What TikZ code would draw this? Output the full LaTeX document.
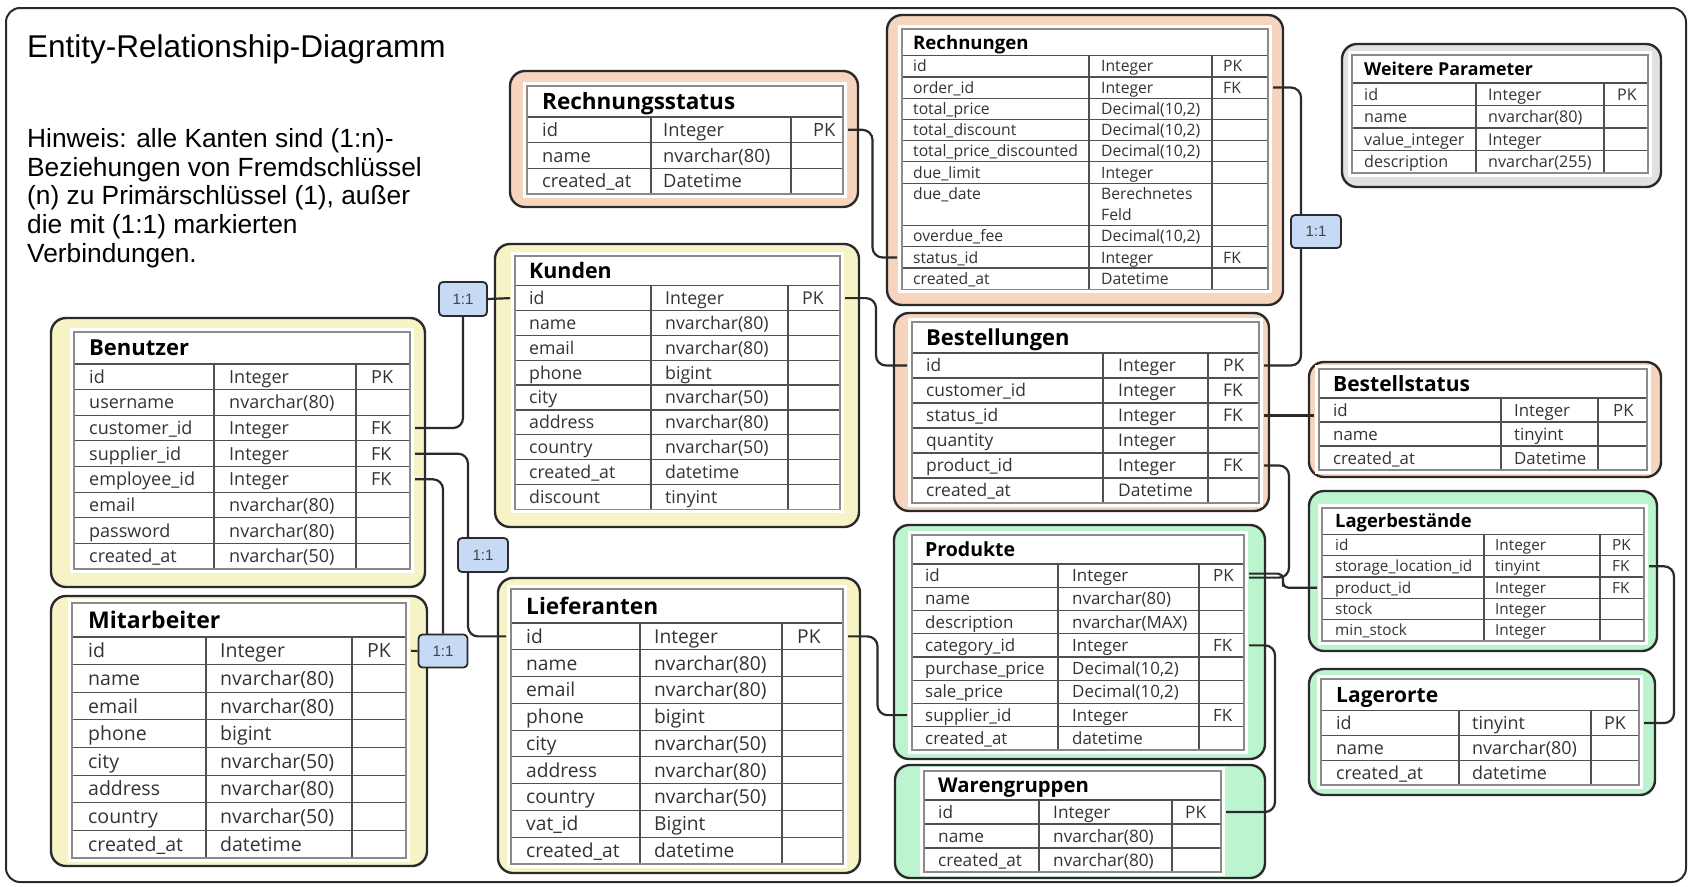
\documentclass[tikz,border=0pt]{standalone}
\usepackage{fontspec}
\setmainfont{Open Sans}
\newfontfamily\arialfont{Liberation Sans}
\usetikzlibrary{calc}
\definecolor{yel}{HTML}{F6F4C6}
\definecolor{pea}{HTML}{F7D4BD}
\definecolor{grn}{HTML}{BDF4D0}
\definecolor{gry}{HTML}{E1E1E1}
\definecolor{blu}{HTML}{C6DAF5}
\definecolor{ink}{HTML}{2A2A2A}
\definecolor{gridc}{HTML}{505050}
\definecolor{tbord}{HTML}{8A8A8A}
\definecolor{celltxt}{HTML}{333333}
\definecolor{onetxt}{HTML}{444444}

\newcount\tabrows
\newcommand\tgeom[7]{\def\tL{#1}\def\tR{#2}\def\tT{#3}\def\tH{#4}\def\tB{#5}\def\tCa{#6}\def\tCb{#7}}
\newcommand\ttxt[5]{\def\txa{#1}\def\txb{#2}\def\txc{#3}\def\tfs{#4}\def\hfs{#5}}
\def\skiprow{0}
\newcommand\ertab[3]{%
  \global\tabrows=0
  \foreach \x in {#3}{\global\advance\tabrows by 1}%
  \pgfmathsetmacro\rh{(\tB-\tH)/\the\tabrows}%
  \fill[white] ({\tL-4},{\tT-4}) rectangle ({\tR+4},{\tB+4});
  \node[titletext] (#1-title) at (\txa,{(\tT+\tH)/2+0.36*\hfs}) {#2};
  \foreach[count=\ri] \ca/\cb/\cc in {#3}{%
    \pgfmathsetmacro\yt{\tH+(\ri-1)*\rh}%
    \pgfmathsetmacro\yc{\yt+\rh/2}%
    \ifnum\ri=\skiprow\relax\else\draw[gridline] (\tL,\yt) -- (\tR,\yt);\fi
    \node[celltext] (#1-\ri-a) at (\txa,{\yc+0.36*\tfs}) {\ca};
    \node[celltext] (#1-\ri-b) at (\txb,{\yc+0.36*\tfs}) {\cb};
    \node[celltext] (#1-\ri-c) at (\txc,{\yc+0.36*\tfs}) {\cc};
    \coordinate (#1-\ri-L) at ({\tL-5},\yc);
    \coordinate (#1-\ri-R) at ({\tR+5},\yc);
  }
  \draw[gridline] (\tCa,\tH) -- (\tCa,\tB);
  \draw[gridline] (\tCb,\tH) -- (\tCb,\tB);
  \draw[tborder] (\tL,\tT) rectangle (\tR,\tB);
}

\tikzset{
  frame/.style={draw=ink, line width=2, rounded corners=14},
  outerbox/.style={draw=ink, line width=2.4, rounded corners=15},
  gridline/.style={draw=gridc, line width=1.2},
  tborder/.style={draw=tbord, line width=1.6},
  celltext/.style={anchor=base west, inner sep=0, text=celltxt, font=\fontsize{\tfs}{\tfs}\selectfont},
  titletext/.style={anchor=base west, inner sep=0, text=black, font=\fontsize{\hfs}{\hfs}\selectfont\bfseries},
  conn/.style={draw=ink, line width=2.2, rounded corners=10},
  onebox/.style={draw=ink, fill=blu, line width=1.8, rounded corners=4, inner sep=0, font=\arialfont\fontsize{15}{15}\selectfont, text=onetxt},
  heading/.style={anchor=base west, inner sep=0, font=\arialfont\fontsize{31.5}{31.5}\selectfont},
  hint/.style={anchor=base west, inner sep=0, font=\arialfont\fontsize{26.3}{26.3}\selectfont},
}

\begin{document}
\begin{tikzpicture}[x=1pt,y=-1pt]
\useasboundingbox (0,0) rectangle (1689,886);
\fill[white] (0,0) rectangle (1689,886);
\draw[frame] (6,8) rectangle (1686,882);

\node[heading] (title) at (27,57) {Entity-Relationship-Diagramm};
\node[hint] (hint1) at (27,147) {Hinweis: alle Kanten sind (1:n)-};
\node[hint] (hint2) at (27,176) {Beziehungen von Fremdschlüssel};
\node[hint] (hint3) at (27,204) {(n) zu Primärschlüssel (1), außer};
\node[hint] (hint4) at (27,233) {die mit (1:1) markierten};
\node[hint] (hint5) at (27,262) {Verbindungen.};

% ---------- outer boxes ----------
\draw[outerbox, fill=pea] (510,71) rectangle (858,207);
\draw[outerbox, fill=pea] (887,15) rectangle (1283,305);
\draw[outerbox, fill=gry] (1342,44) rectangle (1661,187);
\draw[outerbox, fill=yel] (495,244) rectangle (859,527);
\draw[outerbox, fill=yel] (51,318) rectangle (425,587);
\draw[outerbox, fill=yel] (51,596) rectangle (427,866);
\draw[outerbox, fill=pea] (894,313) rectangle (1269,511);
\draw[outerbox, fill=pea] (1309,362) rectangle (1661,477);
\draw[outerbox, fill=grn] (1309,491) rectangle (1657,651);
\draw[outerbox, fill=grn] (1309,669) rectangle (1655,795);
\draw[outerbox, fill=grn] (894,525) rectangle (1265,759);
\draw[outerbox, fill=grn] (895,765) rectangle (1265,878);
\draw[outerbox, fill=yel] (498,578) rectangle (860,873);

% ---------- tables ----------
\tgeom{74}{410}{332}{364}{569}{214}{356}\ttxt{89}{229}{371}{18}{22}
\ertab{benutzer}{Benutzer}{id/Integer/PK,username/nvarchar(80)/{},customer\_id/Integer/FK,supplier\_id/Integer/FK,employee\_id/Integer/FK,email/nvarchar(80)/{},password/nvarchar(80)/{},created\_at/nvarchar(50)/{}}

\tgeom{72}{406}{603}{637}{858}{206}{352}\ttxt{88}{220}{367}{19.5}{23}
\ertab{mitarb}{Mitarbeiter}{id/Integer/PK,name/nvarchar(80)/{},email/nvarchar(80)/{},phone/bigint/{},city/nvarchar(50)/{},address/nvarchar(80)/{},country/nvarchar(50)/{},created\_at/datetime/{}}

\tgeom{515}{840}{256}{285.7}{509.3}{651}{788}\ttxt{529}{665}{802}{17.7}{21.4}
\ertab{kunden}{Kunden}{id/Integer/PK,name/nvarchar(80)/{},email/nvarchar(80)/{},phone/bigint/{},city/nvarchar(50)/{},address/nvarchar(80)/{},country/nvarchar(50)/{},created\_at/datetime/{},discount/tinyint/{}}

\tgeom{511}{843}{589}{623}{864}{640}{782}\ttxt{526}{654}{797}{19.2}{22.7}
\ertab{liefer}{Lieferanten}{id/Integer/PK,name/nvarchar(80)/{},email/nvarchar(80)/{},phone/bigint/{},city/nvarchar(50)/{},address/nvarchar(80)/{},country/nvarchar(50)/{},vat\_id/Bigint/{},created\_at/datetime/{}}

\tgeom{527}{843}{86}{117}{194}{651}{791}\ttxt{542}{663}{813}{18.3}{22.5}
\ertab{rstatus}{Rechnungsstatus}{id/Integer/PK,name/nvarchar(80)/{},created\_at/Datetime/{}}

\def\skiprow{8}
\tgeom{902}{1268}{29}{55.7}{289.3}{1089}{1212}\ttxt{913}{1101}{1223}{15.7}{18.6}
\ertab{rechn}{Rechnungen}{id/Integer/PK,order\_id/Integer/FK,{total\_price/Decimal(10,2)/{}},{total\_discount/Decimal(10,2)/{}},{total\_price\_discounted/Decimal(10,2)/{}},due\_limit/Integer/{},due\_date/Berechnetes/{},{}/Feld/{},{overdue\_fee/Decimal(10,2)/{}},status\_id/Integer/FK,created\_at/Datetime/{}}
\def\skiprow{0}

\tgeom{1352}{1648}{55}{83}{173}{1476}{1604}\ttxt{1364}{1488}{1617}{16.1}{17.8}
\ertab{weitere}{Weitere Parameter}{id/Integer/PK,name/nvarchar(80)/{},value\_integer/Integer/{},description/nvarchar(255)/{}}

\tgeom{912}{1259}{322}{353}{503}{1103}{1208}\ttxt{926}{1118}{1223}{17.4}{22}
\ertab{bestell}{Bestellungen}{id/Integer/PK,customer\_id/Integer/FK,status\_id/Integer/FK,quantity/Integer/{},product\_id/Integer/FK,created\_at/Datetime/{}}

\tgeom{1319}{1647}{369}{398}{470}{1501}{1598}\ttxt{1333}{1514}{1613}{16.8}{21}
\ertab{bstatus}{Bestellstatus}{id/Integer/PK,name/tinyint/{},created\_at/Datetime/{}}

\tgeom{1322}{1644}{508}{534.3}{641}{1484}{1600}\ttxt{1335}{1495}{1612}{15.3}{18.4}
\ertab{lagerb}{Lagerbestände}{id/Integer/PK,storage\_location\_id/tinyint/FK,product\_id/Integer/FK,stock/Integer/{},min\_stock/Integer/{}}

\tgeom{1321}{1639}{679}{710.7}{785}{1459}{1591}\ttxt{1336}{1472}{1604}{17.9}{21}
\ertab{lagero}{Lagerorte}{id/tinyint/PK,name/nvarchar(80)/{},created\_at/datetime/{}}

\tgeom{912}{1244}{535}{564}{750}{1058}{1199}\ttxt{925}{1072}{1213}{16.9}{19.5}
\ertab{produkte}{Produkte}{id/Integer/PK,name/nvarchar(80)/{},description/nvarchar(MAX)/{},category\_id/Integer/FK,{purchase\_price/Decimal(10,2)/{}},{sale\_price/Decimal(10,2)/{}},supplier\_id/Integer/FK,created\_at/datetime/{}}

\tgeom{924}{1221}{771}{800}{872}{1039}{1172}\ttxt{938}{1053}{1185}{17.2}{20.3}
\ertab{waren}{Warengruppen}{id/Integer/PK,name/nvarchar(80)/{},created\_at/nvarchar(80)/{}}

% ---------- 1:1 boxes ----------
\node[onebox, minimum width=48, minimum height=34] (oneA) at (463,299) {1:1};
\node[onebox, minimum width=50, minimum height=34] (oneB) at (483,555) {1:1};
\node[onebox, minimum width=49, minimum height=33] (oneC) at (443,651) {1:1};
\node[onebox, minimum width=50, minimum height=33] (oneD) at (1316,231.5) {1:1};

% ---------- connectors ----------
\draw[conn] (benutzer-3-R) -| (oneA.south);
\draw[conn] (oneA.east) -- (kunden-1-L);
\draw[conn] (benutzer-4-R) -| ([xshift=-15]oneB.north);
\draw[conn] ([xshift=-15]oneB.south) |- (liefer-1-L);
\draw[conn] (benutzer-5-R) -| (oneC.north);
\draw[conn] (oneC.west) -- (mitarb-1-R);
\draw[conn] (kunden-1-R) -| ($(kunden-1-R)!.5!(bestell-1-L)$) |- (bestell-1-L);
\draw[conn] (rstatus-1-R) -| ($(rstatus-1-R)!.5!(rechn-10-L)$) |- (rechn-10-L);
\draw[conn] (rechn-2-R) -| ([xshift=-15]oneD.north);
\draw[conn] ([xshift=-15]oneD.south) |- (bestell-1-R);
\draw[conn] (bestell-3-R) -- (bestell-3-R -| bstatus-1-L);
\draw[conn] (bestell-5-R) -- ++(25,0) |- ([yshift=-2]produkte-1-R);
\draw[conn, rounded corners=5] ([yshift=2]produkte-1-R) -| ($(produkte-1-R)!.5!(lagerb-3-L)$) |- (lagerb-3-L);
\draw[conn] (lagerb-2-R) -- ++(25,0) |- (lagero-1-R);
\draw[conn] (produkte-4-R) -- ++(26,0) |- (waren-1-R);
\draw[conn] (liefer-1-R) -| ($(liefer-1-R)!.5!(produkte-7-L)$) |- (produkte-7-L);
\end{tikzpicture}
\end{document}
